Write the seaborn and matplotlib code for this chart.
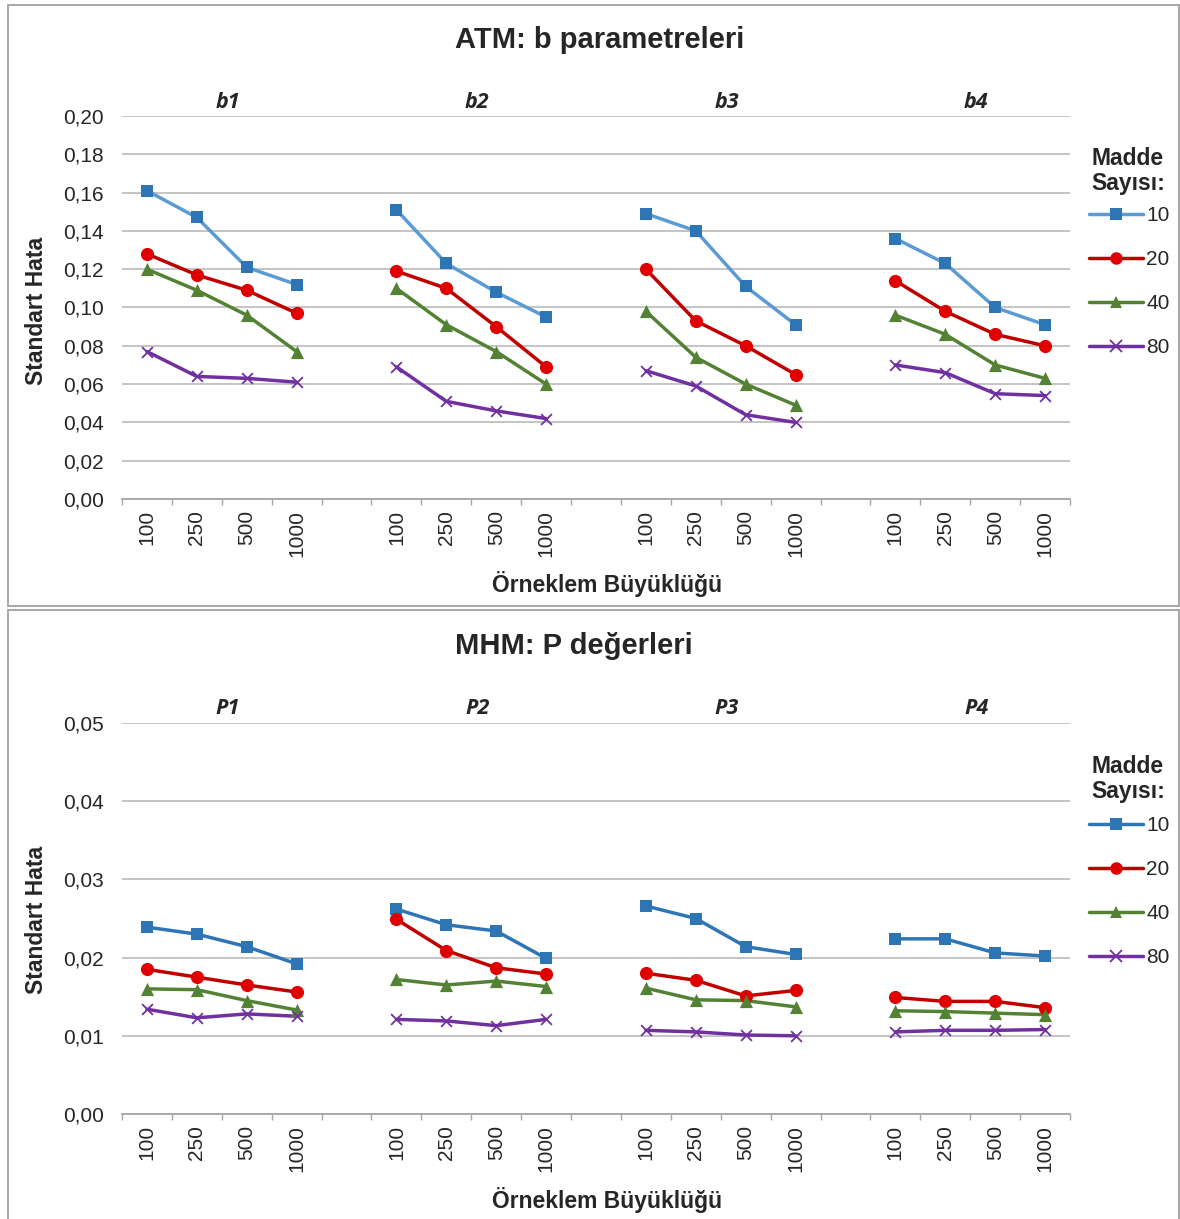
import numpy as np
import pandas as pd
import matplotlib.pyplot as plt
from matplotlib.lines import Line2D
from matplotlib.patches import Rectangle
import seaborn as sns

# Estilo general
sns.set_theme(style="white")
plt.rcParams["font.family"] = ["Liberation Sans", "DejaVu Sans"]

# Datos
sizes = ["100", "250", "500", "1000"]
madde = ["10", "20", "40", "80"]
groups_b = ["b1", "b2", "b3", "b4"]
groups_p = ["P1", "P2", "P3", "P4"]

m10_b = [0.161, 0.147, 0.121, 0.112, 0.151, 0.123, 0.108, 0.095,
         0.149, 0.140, 0.111, 0.091, 0.136, 0.123, 0.100, 0.091]
m20_b = [0.128, 0.117, 0.109, 0.097, 0.119, 0.110, 0.090, 0.069,
         0.120, 0.093, 0.080, 0.065, 0.114, 0.098, 0.086, 0.080]
m40_b = [0.120, 0.109, 0.096, 0.077, 0.110, 0.091, 0.077, 0.060,
         0.098, 0.074, 0.060, 0.049, 0.096, 0.086, 0.070, 0.063]
m80_b = [0.077, 0.064, 0.063, 0.061, 0.069, 0.051, 0.046, 0.042,
         0.067, 0.059, 0.044, 0.040, 0.070, 0.066, 0.055, 0.054]

m10_p = [0.0239, 0.0230, 0.0214, 0.0192, 0.0262, 0.0242, 0.0234, 0.0199,
         0.0266, 0.0250, 0.0214, 0.0204, 0.0224, 0.0224, 0.0206, 0.0202]
m20_p = [0.0185, 0.0175, 0.0165, 0.0156, 0.0249, 0.0209, 0.0187, 0.0179,
         0.0180, 0.0171, 0.0151, 0.0158, 0.0149, 0.0144, 0.0144, 0.0136]
m40_p = [0.0160, 0.0159, 0.0145, 0.0133, 0.0172, 0.0165, 0.0170, 0.0163,
         0.0161, 0.0146, 0.0145, 0.0137, 0.0132, 0.0131, 0.0129, 0.0127]
m80_p = [0.0134, 0.0123, 0.0128, 0.0125, 0.0121, 0.0119, 0.0113, 0.0121,
         0.0107, 0.0105, 0.0101, 0.0100, 0.0105, 0.0107, 0.0107, 0.0108]

# Colores y marcadores
marker_colors = {"10": "#2E75B6", "20": "#E00000", "40": "#548235", "80": "#7030A0"}
markers = {"10": "s", "20": "o", "40": "^", "80": "x"}
marker_sizes = {"10": 80, "20": 90, "40": 90, "80": 60}
line_b = {"10": "#5B9BD5", "20": "#C00000", "40": "#548235", "80": "#7030A0"}
line_p = {"10": "#2E75B6", "20": "#C00000", "40": "#548235", "80": "#7030A0"}
grid_col = "#B4B4B4"


def long_df(series, groups):
    rows = []
    for m, vals in zip(madde, series):
        for k, v in enumerate(vals):
            g, i = divmod(k, 4)
            rows.append({"madde": m, "grp": groups[g], "n": sizes[i],
                         "pos": g * 5 + i, "value": v})
    return pd.DataFrame(rows)


def draw_panel(ax, df, groups, ymax, ystep, line_colors):
    sns.lineplot(data=df, x="pos", y="value", hue="madde", units="grp",
                 estimator=None, palette=line_colors, linewidth=2.5,
                 legend=False, ax=ax, zorder=3)
    for m in madde:
        sub = df[df["madde"] == m]
        if markers[m] == "x":
            sns.scatterplot(data=sub, x="pos", y="value", marker="x",
                            color=marker_colors[m], s=marker_sizes[m],
                            linewidth=1.3, ax=ax, zorder=4)
        else:
            sns.scatterplot(data=sub, x="pos", y="value", marker=markers[m],
                            color=marker_colors[m], s=marker_sizes[m],
                            linewidth=0, ax=ax, zorder=4)

    ax.set_xlim(-0.5, 18.5)
    ax.set_ylim(0, ymax)
    yt = np.arange(0, ymax + ystep / 2, ystep)
    ax.set_yticks(yt)
    ax.set_yticklabels([f"{v:.2f}".replace(".", ",") for v in yt], fontsize=15)
    ax.yaxis.grid(True, color=grid_col, linewidth=1.1)
    ax.tick_params(axis="y", length=0, pad=13)

    pos = [g * 5 + i for g in range(4) for i in range(4)]
    ax.set_xticks(pos)
    ax.set_xticklabels(sizes * 4, rotation=90, fontsize=15)
    ax.tick_params(axis="x", which="major", length=0, pad=8)
    ax.set_xticks(np.arange(-0.5, 19, 1), minor=True)
    ax.tick_params(axis="x", which="minor", length=4.5, width=1, color="#A6A6A6",
                   direction="out", bottom=True)
    ax.set_xlabel("")
    ax.set_ylabel("")

    for s in ["left", "right", "top"]:
        ax.spines[s].set_visible(False)
    ax.spines["bottom"].set_color("#A6A6A6")
    ax.spines["bottom"].set_linewidth(1.3)

    for g, name in enumerate(groups):
        ax.text(g * 5 + 1.62, 1.036, name, transform=ax.get_xaxis_transform(),
                ha="center", va="center", fontsize=15.5, fontweight="bold",
                fontstyle="italic", family=["Open Sans", "DejaVu Sans"])


W, H = 1180, 1219
fig = plt.figure(figsize=(W / 100, H / 100), dpi=100)

# Marcos de los paneles
fig.patches.append(Rectangle((8 / W, 1 - 606 / H), 1171 / W, 601 / H,
                             transform=fig.transFigure, fill=False,
                             edgecolor="#A0A0A0", linewidth=1.3, zorder=-1))
fig.patches.append(Rectangle((8 / W, -0.01), 1171 / W, 1 - 610 / H + 0.01,
                             transform=fig.transFigure, fill=False,
                             edgecolor="#A0A0A0", linewidth=1.3, zorder=-1))

ax1 = fig.add_axes([122 / W, 1 - 499 / H, 948 / W, 383 / H])
ax2 = fig.add_axes([122 / W, 1 - 1114 / H, 948 / W, 391 / H])

df_b = long_df([m10_b, m20_b, m40_b, m80_b], groups_b)
df_p = long_df([m10_p, m20_p, m40_p, m80_p], groups_p)

draw_panel(ax1, df_b, groups_b, 0.20, 0.02, line_b)
draw_panel(ax2, df_p, groups_p, 0.05, 0.01, line_p)

# Títulos y etiquetas
fig.text(455 / W, 1 - 40 / H, "ATM: b parametreleri", ha="left", va="center",
         fontsize=21, fontweight="bold")
fig.text(455 / W, 1 - 646 / H, "MHM: P değerleri", ha="left", va="center",
         fontsize=21, fontweight="bold")
for yc in [311, 920]:
    fig.text(37 / W, 1 - yc / H, "Standart Hata", rotation=90, ha="center",
             va="center", fontsize=16.5, fontweight="bold")
for yc in [584, 1200]:
    fig.text(607 / W, 1 - yc / H, "Örneklem Büyüklüğü", ha="center",
             va="center", fontsize=16.5, fontweight="bold")

# Leyendas (título aparte para controlar el espaciado)
for title_y, top, lines in [(171, 202, line_b), (779, 812, line_p)]:
    fig.text(1128 / W, 1 - title_y / H, "Madde\nSayısı:", ha="center",
             va="center", fontsize=16.5, fontweight="bold", linespacing=1.15,
             bbox=dict(facecolor="white", edgecolor="none", pad=1))
    handles = [Line2D([], [], color=lines[m], linewidth=2.5, marker=markers[m],
                      markersize=9 if m != "80" else 8,
                      markerfacecolor=marker_colors[m],
                      markeredgecolor=marker_colors[m],
                      markeredgewidth=0 if m != "80" else 1.3)
               for m in madde]
    fig.legend(handles, madde, loc="upper left",
               bbox_to_anchor=(1085 / W, 1 - top / H),
               bbox_transform=fig.transFigure, frameon=True,
               facecolor="white", edgecolor="none", framealpha=1,
               fontsize=15, handlelength=2.6, handletextpad=0.15,
               labelspacing=1.2, borderpad=0.2, borderaxespad=0,
               fancybox=False)

plt.savefig("out.png", dpi=100)
